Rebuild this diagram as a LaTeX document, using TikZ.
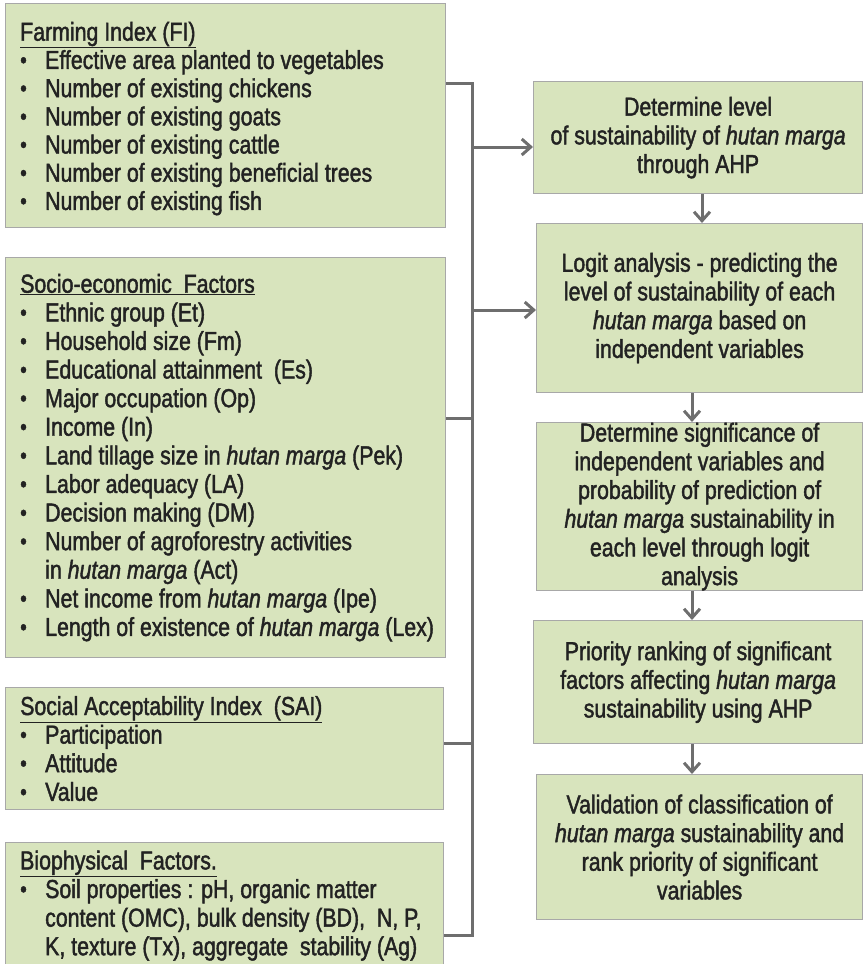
\documentclass[tikz,border=0pt]{standalone}
\usepackage{fontspec}
\setmainfont[FakeStretch=0.82,FakeBold=1.6]{Liberation Sans}
\usetikzlibrary{arrows.meta}
\definecolor{boxfill}{HTML}{D8E4BD}
\definecolor{boxline}{HTML}{A8A8A8}
\definecolor{conngray}{HTML}{6E6E6E}
\definecolor{txtcol}{HTML}{222222}
\newcommand{\bl}[1]{\makebox[25pt][l]{\raisebox{1pt}{\fontsize{23}{23}\selectfont\textbullet}}#1}
\newcommand{\hm}{\textit{hutan marga}}
\begin{document}
\begin{tikzpicture}[x=1pt,y=-1pt,
  box/.style={draw=boxline, line width=1.2pt, fill=boxfill, inner sep=0pt, anchor=north west},
  lefttext/.style={anchor=west, align=left, inner sep=0pt, text=txtcol, font=\fontsize{26}{28.6}\selectfont},
  flow/.style={box, align=center, text=txtcol, font=\fontsize{26}{28.7}\selectfont},
  connline/.style={draw=conngray, line width=3pt},
  arr/.style={connline, -{Straight Barb[length=9pt,width=16pt]}}]
\useasboundingbox (0,0) rectangle (863,964);
\clip (0,0) rectangle (863,964);

% left boxes
\node[box, minimum width=440pt, minimum height=224pt] (fi) at (5,3) {};
\node[lefttext, font=\fontsize{26}{28.2}\selectfont] (fitxt) at ([xshift=15pt,yshift=-3pt]fi.west) {%
\underline{Farming Index (FI)}\\
\bl{Effective area planted to vegetables}\\
\bl{Number of existing chickens}\\
\bl{Number of existing goats}\\
\bl{Number of existing cattle}\\
\bl{Number of existing beneficial trees}\\
\bl{Number of existing fish}};

\node[box, minimum width=440pt, minimum height=400pt] (se) at (5,257) {};
\node[lefttext] (setxt) at ([xshift=15pt]se.west) {%
\underline{Socio-economic\ \ Factors}\\
\bl{Ethnic group (Et)}\\
\bl{Household size (Fm)}\\
\bl{Educational attainment\ \ (Es)}\\
\bl{Major occupation (Op)}\\
\bl{Income (In)}\\
\bl{Land tillage size in \hm{} (Pek)}\\
\bl{Labor adequacy (LA)}\\
\bl{Decision making (DM)}\\
\bl{Number of agroforestry activities}\\
\hspace*{25pt}in \hm{} (Act)\\
\bl{Net income from \hm{} (Ipe)}\\
\bl{Length of existence of \hm{} (Lex)}};

\node[box, minimum width=438pt, minimum height=122pt] (sai) at (5,687) {};
\node[lefttext] (saitxt) at ([xshift=15pt]sai.west) {%
\underline{Social Acceptability Index\ \ (SAI)}\\
\bl{Participation}\\
\bl{Attitude}\\
\bl{Value}};

\node[box, minimum width=438pt, minimum height=126pt] (bio) at (5,842) {};
\node[lefttext] (biotxt) at ([xshift=15pt]bio.west) {%
\underline{Biophysical\ \ Factors.}\\
\bl{Soil properties : pH, organic matter}\\
\hspace*{25pt}content (OMC), bulk density (BD),\ \ N, P,\\
\hspace*{25pt}K, texture (Tx), aggregate\ \ stability (Ag)};

% right flow boxes
\node[flow, minimum width=329pt, minimum height=112pt] (dl) at (533,81)
  {Determine level\\of sustainability of \hm\\through AHP};
\node[flow, minimum width=326pt, minimum height=169pt] (lg) at (536,223)
  {Logit analysis - predicting the\\level of sustainability of each\\\hm{} based on\\independent variables};
\node[flow, minimum width=326pt, minimum height=168pt, inner ysep=0pt] (sig) at (536,422)
  {Determine significance of\\independent variables and\\probability of prediction of\\\hm{} sustainability in\\each level through logit\\analysis};
\node[flow, minimum width=329pt, minimum height=123pt] (pr) at (533,620)
  {Priority ranking of significant\\factors affecting \hm\\sustainability using AHP};
\node[flow, minimum width=326pt, minimum height=145pt] (val) at (536,774)
  {Validation of classification of\\\hm{} sustainability and\\rank priority of significant\\variables};

% connectors
\coordinate (j1) at (472,83);
\coordinate (j2) at (472,418);
\coordinate (j3) at (472,743);
\coordinate (j4) at (472,935);
\coordinate (a1) at (472,147);
\coordinate (a2) at (472,310);
\coordinate (c1) at (702,0);
\coordinate (c2) at (692,0);
\draw[connline] (fi.east |- j1) -- (j1) -- (j4) -- (bio.east |- j4);
\draw[connline] (se.east |- j2) -- (j2);
\draw[connline] (sai.east |- j3) -- (j3);
\draw[arr] (a1) -- (a1 -| dl.west);
\draw[arr] (a2) -- (a2 -| lg.west);
\draw[arr] (dl.south -| c1) -- (lg.north -| c1);
\draw[arr] (lg.south -| c2) -- (sig.north -| c2);
\draw[arr] (sig.south -| c2) -- (pr.north -| c2);
\draw[arr] (pr.south -| c2) -- (val.north -| c2);
\end{tikzpicture}
\end{document}
